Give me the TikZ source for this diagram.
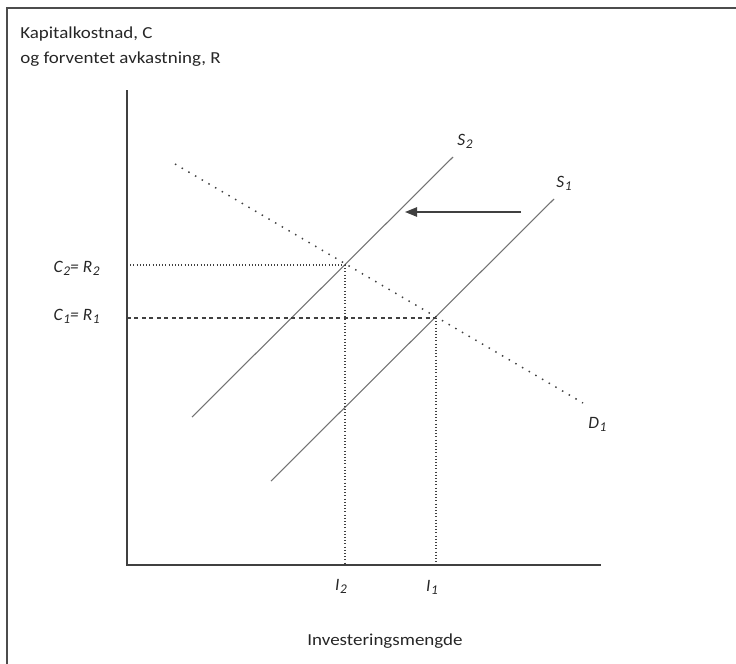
\documentclass[tikz,border=0pt]{standalone}
\usepackage{fontspec}
\setmainfont{Carlito}
\newfontfamily\axfont{Carlito}[FakeStretch=1.13]
\usetikzlibrary{arrows.meta}
\newcommand\lsub[1]{\kern0.6pt\raisebox{-0.45ex}{\fontsize{10}{10}\selectfont #1}}
\begin{document}
\begin{tikzpicture}[x=0.75pt,y=-0.75pt,
  lbl/.style={font=\fontsize{13}{15}\selectfont\itshape, inner sep=0pt, text=black!85},
  txt/.style={font=\axfont\fontsize{12.6}{15}\selectfont, inner sep=0pt, text=black!85},
  axis/.style={draw=black!75, line width=1.1pt},
  supply/.style={draw=black!55, line width=0.8pt},
  demand/.style={draw=black!75, line width=1.1pt, dash pattern=on 1.1pt off 4.7pt},
  guidedot/.style={draw=black!75, line width=0.8pt, dash pattern=on 0.8pt off 1.6pt},
  guidedash/.style={draw=black!75, line width=0.8pt, dash pattern=on 3pt off 2.6pt}]
\useasboundingbox (0,0) rectangle (736,664);
% frame
\coordinate (fr1) at (736,8);
\coordinate (fr2) at (7,8);
\coordinate (fr3) at (7,664);
\draw[draw=black!70, line width=1.1pt] (fr1) -- (fr2) -- (fr3);
% axes
\coordinate (ytop) at (127,90);
\coordinate (O) at (127,565);
\coordinate (xend) at (601,565);
\draw[axis] (ytop) -- (O) -- (xend);
% supply curves
\coordinate (s2a) at (192,417);
\coordinate (s2b) at (453,157);
\coordinate (s1a) at (271,481);
\coordinate (s1b) at (554,199);
\draw[supply] (s2a) -- (s2b);
\draw[supply] (s1a) -- (s1b);
% demand
\coordinate (da) at (175,164);
\coordinate (db) at (583,403);
\draw[demand] (da) -- (db);
% equilibria
\coordinate (E2) at (345,265);
\coordinate (E1) at (436,318);
\coordinate (c2) at (127,265);
\coordinate (c1) at (127,318);
\coordinate (i2) at (345,565);
\coordinate (i1) at (436,565);
\draw[guidedot] (c2) -- (E2);
\draw[guidedot] (E2) -- (i2);
\draw[guidedash] (c1) -- (E1);
\draw[guidedot] (E1) -- (i1);
% shift arrow
\coordinate (arA) at (521,212);
\coordinate (arB) at (405,212);
\draw[draw=black!75, line width=1.1pt, -{Triangle[length=9pt,width=7pt]}] (arA) -- (arB);
% labels
\node[lbl, anchor=base west] (lS2) at (457,145) {S\lsub{2}};
\node[lbl, anchor=base west] (lS1) at (556,187) {S\lsub{1}};
\node[lbl, anchor=base west] (lD1) at (588,428) {D\lsub{1}};
\node[lbl, anchor=base east] (lC2) at (100,272) {C\lsub{2}= R\lsub{2}};
\node[lbl, anchor=base east] (lC1) at (100,320) {C\lsub{1}= R\lsub{1}};
\node[lbl, anchor=base] (lI2) at (341,590) {I\lsub{2}};
\node[lbl, anchor=base] (lI1) at (432,591) {I\lsub{1}};
\node[txt, anchor=base] (xl) at (385,645) {Investeringsmengde};
\node[txt, anchor=base west] (yl1) at (20,38) {Kapitalkostnad, C};
\node[txt, anchor=base west] (yl2) at (20,63) {og forventet avkastning, R};
\end{tikzpicture}
\end{document}
